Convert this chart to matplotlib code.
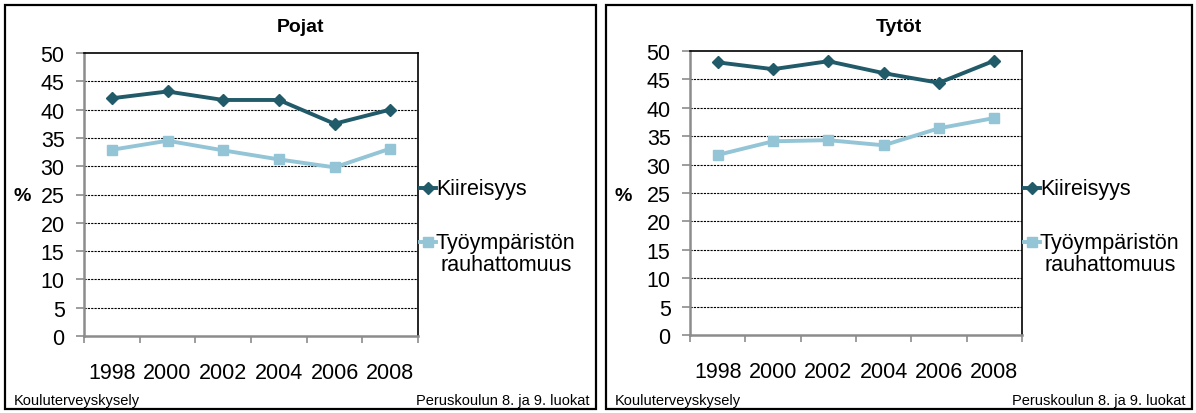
import matplotlib
matplotlib.use("Agg")
import matplotlib.pyplot as plt
from matplotlib.patches import Rectangle
from matplotlib.lines import Line2D

plt.rcParams['font.family'] = ['Liberation Sans', 'DejaVu Sans']

years = ["1998", "2000", "2002", "2004", "2006", "2008"]
pojat_kiire = [42.0, 43.2, 41.7, 41.7, 37.5, 40.0]
pojat_rauh = [32.9, 34.5, 32.8, 31.2, 29.8, 33.1]
tytot_kiire = [48.0, 46.8, 48.2, 46.1, 44.4, 48.3]
tytot_rauh = [31.7, 34.1, 34.3, 33.4, 36.4, 38.2]
labels = ["Kiireisyys", "Työympäristön\nrauhattomuus"]

dark = "#215A69"
light = "#93C5D6"
gray = "#8C8C8C"

fig = plt.figure(figsize=(11.96, 4.14), dpi=100)
W, H = 1196, 414

def fx(px):
    return px / W

def fy(py):
    return 1 - py / H

def panel(x0, x1, axl, axr, axt, axb, title, kiire, rauh):
    # panel frame
    fig.patches.append(Rectangle((fx(x0), fy(410)), (x1 - x0) / W, (410 - 6) / H,
                                 transform=fig.transFigure, fill=False,
                                 edgecolor="black", linewidth=1.6))
    ax = fig.add_axes([fx(axl), fy(axb), (axr - axl) / W, (axb - axt) / H])
    xs = range(len(years))
    ax.plot(xs, kiire, color=dark, lw=2.8, marker="D", ms=6.5, clip_on=False)
    ax.plot(xs, rauh, color=light, lw=2.8, marker="s", ms=7.5, clip_on=False)
    ax.set_xlim(-0.5, 5.5)
    ax.set_ylim(0, 50)
    ax.set_yticks(range(0, 51, 5))
    ax.set_xticks([i - 0.5 for i in range(7)])
    ax.set_xticklabels([])
    ax.set_xticks(list(xs), minor=True)
    ax.set_xticklabels(years, minor=True, fontsize=15.5)
    ax.tick_params(axis="x", which="minor", length=0, pad=19)
    ax.tick_params(axis="x", which="major", length=5, color=gray, width=1.2)
    ax.tick_params(axis="y", length=6, color=gray, width=1.2, labelsize=15.5, pad=8)
    for y in range(5, 50, 5):
        ax.axhline(y, color="black", lw=0.8, ls=(0, (2, 1)), zorder=0)
    ax.spines["left"].set_color(gray)
    ax.spines["bottom"].set_color(gray)
    ax.spines["left"].set_linewidth(1.8)
    ax.spines["bottom"].set_linewidth(1.8)
    ax.spines["top"].set_linewidth(1.2)
    ax.spines["right"].set_linewidth(1.2)

    # legend, drawn by hand so the handle sits on the first text line
    hx = axr + 2
    for (col, mk, ms, ly, lab) in [(dark, "D", 6, 189, labels[0]), (light, "s", 7, 243, labels[1])]:
        fig.add_artist(Line2D([fx(hx), fx(hx + 16)], [fy(ly), fy(ly)], color=col, lw=2.8,
                              transform=fig.transFigure))
        fig.add_artist(Line2D([fx(hx + 8)], [fy(ly)], color=col, marker=mk, ms=ms,
                              transform=fig.transFigure))
        fig.text(fx(hx + 16), fy(ly - 10), lab, ha="left", va="top", fontsize=15.5,
                 multialignment="center", linespacing=1.08)

    cx = fx((x0 + x1) / 2)
    fig.text(cx, fy(28), title, ha="center", va="center", fontsize=14, fontweight="bold")
    fig.text(fx(x0 + 17), fy(197), "%", ha="center", va="center", fontsize=14, fontweight="bold")
    fig.text(fx(x0 + 9), fy(401), "Kouluterveyskysely", ha="left", va="center", fontsize=10.5)
    fig.text(fx(x1 - 6), fy(401), "Peruskoulun 8. ja 9. luokat", ha="right", va="center", fontsize=10.5)
    return ax

panel(5, 596, 84, 418, 54, 337, "Pojat", pojat_kiire, pojat_rauh)
panel(606, 1192, 690, 1022, 52, 336, "Tytöt", tytot_kiire, tytot_rauh)

fig.savefig("out.png", dpi=100)
